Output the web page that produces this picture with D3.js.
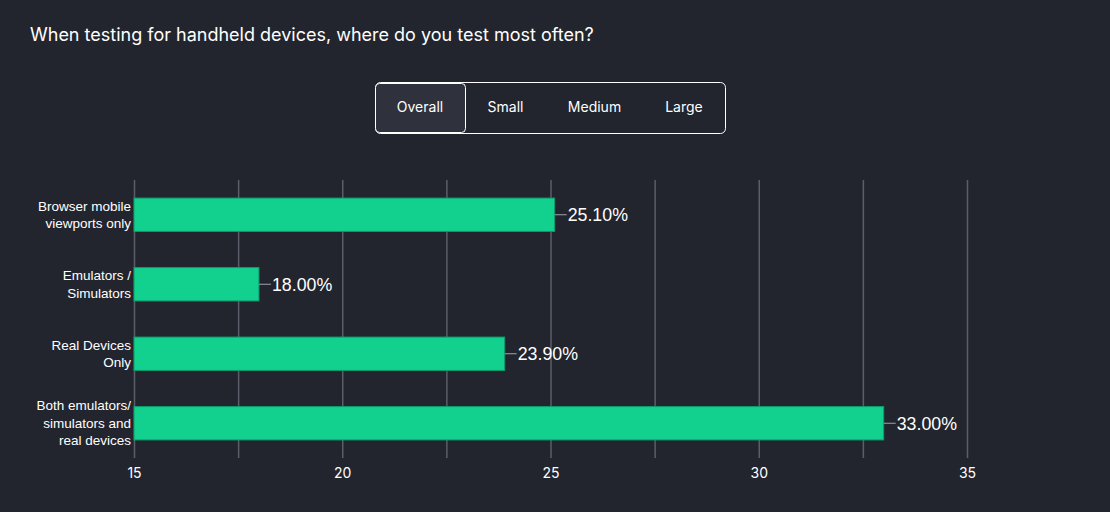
<!DOCTYPE html>
<html><head><meta charset="utf-8">
<script src="https://cdn.jsdelivr.net/npm/d3@7"></script>
<style>
html,body{margin:0;padding:0;background:#22252e;}
svg{display:block;}
</style></head>
<body>
<svg id="c" width="1110" height="512"></svg>
<script>
const categories = [
  ["Browser mobile","viewports only"],
  ["Emulators /","Simulators"],
  ["Real Devices","Only"],
  ["Both emulators/","simulators and","real devices"]
];
const values = [25.1, 18.0, 23.9, 33.0];
const gridTicks = [15, 17.5, 20, 22.5, 25, 27.5, 30, 32.5, 35];
const tickLabels = [15, 20, 25, 30, 35];
const tabs = ["Overall","Small","Medium","Large"];
const title = "When testing for handheld devices, where do you test most often?";

const svg = d3.select("#c");
const W = 1110, H = 512;
const m = {left:134, right:143, top:180, bottom:54};

svg.append("rect").attr("width",W).attr("height",H).attr("fill","#22252e");

svg.append("text").attr("x",30).attr("y",41)
  .attr("fill","#ffffff").attr("font-family","Inter, 'Noto Sans', sans-serif")
  .attr("font-size",18).text(title);

// tabs
const tg = svg.append("g");
tg.append("rect").attr("x",375.5).attr("y",82.5).attr("width",350).attr("height",51)
  .attr("rx",5).attr("fill","none").attr("stroke","#ffffff").attr("stroke-width",1);
tg.append("rect").attr("x",375.5).attr("y",83.5).attr("width",90).attr("height",49)
  .attr("rx",4).attr("fill","#2f323d").attr("stroke","#ffffff").attr("stroke-width",1);
const tabX = [420, 505.5, 594.5, 684];
tabs.forEach((t,i)=>{
  tg.append("text").attr("x",tabX[i]).attr("y",112).attr("text-anchor","middle")
    .attr("fill","#ffffff").attr("font-family","Inter, 'Noto Sans', sans-serif")
    .attr("font-size",14).text(t);
});

const x = d3.scaleLinear().domain([15,35]).range([m.left, W-m.right]);
const y = d3.scaleBand().domain(d3.range(categories.length)).range([m.top, H-m.bottom]).paddingInner(0.52).paddingOuter(0.26);

// grid
svg.append("g").selectAll("line").data(gridTicks).join("line")
  .attr("x1",d=>x(d)+0.5).attr("x2",d=>x(d)+0.5)
  .attr("y1",m.top).attr("y2",H-m.bottom)
  .attr("stroke","#5b5e6a").attr("stroke-width",1.5);

// x axis labels
const xa = svg.append("g").attr("transform",`translate(0,${H-m.bottom})`)
  .call(d3.axisBottom(x).tickValues(tickLabels).tickSize(0).tickPadding(10).tickFormat(d3.format("d")));
xa.select(".domain").remove();
xa.selectAll("text").attr("fill","#ffffff").attr("font-size",14)
  .attr("font-family","Inter, 'Noto Sans', sans-serif");

// bars
svg.append("g").selectAll("rect").data(values).join("rect")
  .attr("x",x(15)).attr("y",(d,i)=>y(i))
  .attr("width",d=>x(d)-x(15)).attr("height",y.bandwidth())
  .attr("fill","#12d18e").attr("stroke","#0f9c6c").attr("stroke-width",1);

// value label leader lines
svg.append("g").selectAll("line").data(values).join("line")
  .attr("x1",d=>x(d)).attr("x2",d=>x(d)+12)
  .attr("y1",(d,i)=>y(i)+y.bandwidth()/2).attr("y2",(d,i)=>y(i)+y.bandwidth()/2)
  .attr("stroke","#a0a3ab").attr("stroke-width",1);
svg.append("g").selectAll("text").data(values).join("text")
  .attr("x",d=>x(d)+13).attr("y",(d,i)=>y(i)+y.bandwidth()/2)
  .attr("dy","0.36em").attr("fill","#ffffff")
  .attr("font-family","'Liberation Sans', Arial, sans-serif").attr("font-size",17.8)
  .text(d=>d.toFixed(2)+"%");

// y labels
const yl = svg.append("g");
categories.forEach((lines,i)=>{
  const cy = y(i)+y.bandwidth()/2;
  const lh = 17.5;
  const t = yl.append("text").attr("text-anchor","end")
    .attr("fill","#ffffff").attr("font-family","'Liberation Sans', Arial, sans-serif")
    .attr("font-size",13.5);
  lines.forEach((l,j)=>{
    t.append("tspan").attr("x",131)
      .attr("y",cy + (j-(lines.length-1)/2)*lh).attr("dy","0.35em").text(l);
  });
});
</script>
</body></html>
